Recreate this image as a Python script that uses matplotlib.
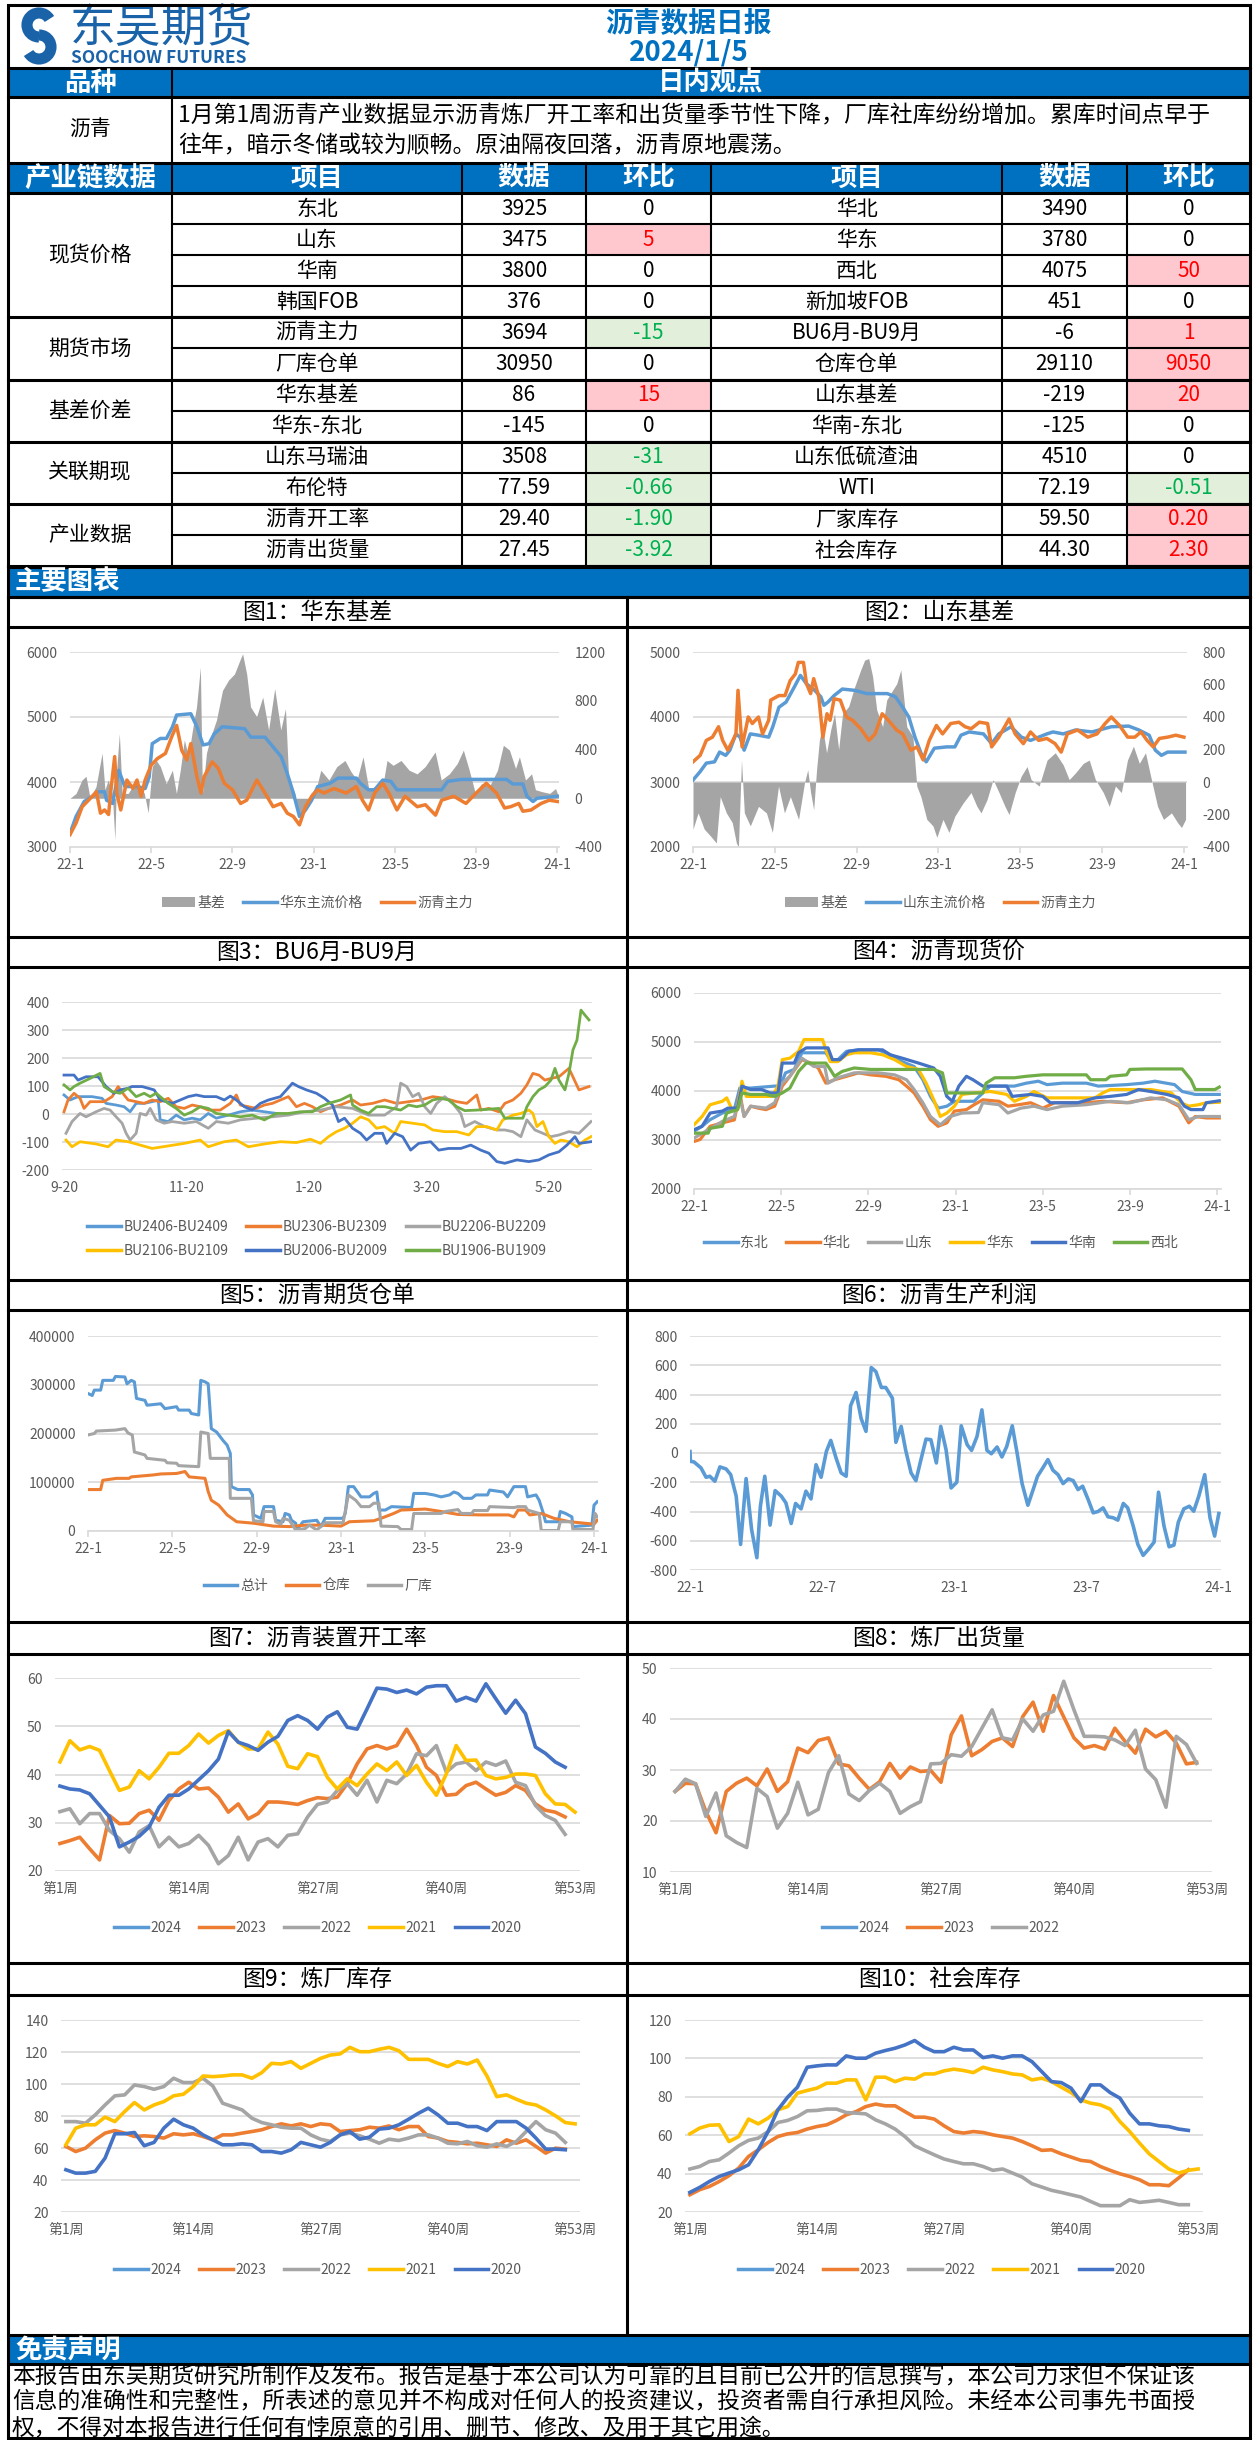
import matplotlib.pyplot as plt
import matplotlib.ticker as mticker
from matplotlib.patches import Rectangle, Patch, Arc
from matplotlib.lines import Line2D

plt.rcParams['font.family'] = ['Noto Sans CJK SC', 'DejaVu Sans']
plt.rcParams['axes.unicode_minus'] = False

C_LB, C_OR, C_GR, C_YE, C_DB, C_GN = '#5B9BD5', '#ED7D31', '#A5A5A5', '#FFC000', '#4472C4', '#70AD47'
BLUE = '#0070C0'
GRID = '#D9D9D9'
TICK = '#595959'

# ---------------- table ----------------
comment = ['1月第1周沥青产业数据显示沥青炼厂开工率和出货量季节性下降，厂库社库纷纷增加。累库时间点早于',
           '往年，暗示冬储或较为顺畅。原油隔夜回落，沥青原地震荡。']
groups = ['现货价格', '期货市场', '基差价差', '关联期现', '产业数据']
group_rows = [4, 2, 2, 2, 2]
items_left = ['东北', '山东', '华南', '韩国FOB', '沥青主力', '厂库仓单', '华东基差', '华东-东北',
              '山东马瑞油', '布伦特', '沥青开工率', '沥青出货量']
data_left = ['3925', '3475', '3800', '376', '3694', '30950', '86', '-145', '3508', '77.59', '29.40', '27.45']
chg_left = ['0', '5', '0', '0', '-15', '0', '15', '0', '-31', '-0.66', '-1.90', '-3.92']
items_right = ['华北', '华东', '西北', '新加坡FOB', 'BU6月-BU9月', '仓库仓单', '山东基差', '华南-东北',
               '山东低硫渣油', 'WTI', '厂家库存', '社会库存']
data_right = ['3490', '3780', '4075', '451', '-6', '29110', '-219', '-125', '4510', '72.19', '59.50', '44.30']
chg_right = ['0', '0', '50', '0', '1', '9050', '20', '0', '0', '-0.51', '0.20', '2.30']
disclaimer = ['本报告由东吴期货研究所制作及发布。报告是基于本公司认为可靠的且目前已公开的信息撰写，本公司力求但不保证该',
              '信息的准确性和完整性，所表述的意见并不构成对任何人的投资建议，投资者需自行承担风险。未经本公司事先书面授',
              '权，不得对本报告进行任何有悖原意的引用、删节、修改、及用于其它用途。']

# ---------------- chart data (month index from 22-1) ----------------
date_ticks = [0, 4, 8, 12, 16, 20, 24]
date_labels = ['22-1', '22-5', '22-9', '23-1', '23-5', '23-9', '24-1']

hd_price = [(0, 3210), (0.3, 3470), (0.7, 3700), (1.1, 3780), (1.4, 3850), (1.7, 3850), (1.8, 3720), (2.1, 3670),
            (2.4, 4180), (2.7, 3930), (3.3, 3930), (3.7, 3900), (3.9, 4080), (4.05, 4590), (4.45, 4670), (4.75, 4670),
            (5.05, 4850), (5.25, 5030), (5.95, 5050), (6.25, 4850), (6.55, 4570), (6.85, 4590), (7.1, 4740),
            (7.5, 4850), (8.6, 4820), (8.9, 4690), (9.6, 4690), (10.0, 4540), (10.4, 4390), (10.7, 4130), (11.0, 3830),
            (11.3, 3470), (11.6, 3570), (11.9, 3720), (12.2, 3930), (12.8, 3980), (13.2, 4060), (14.1, 4060),
            (14.3, 3980), (14.7, 3880), (15.0, 3880), (15.4, 4030), (15.8, 4010), (16.1, 3880), (18.3, 3880),
            (18.6, 4010), (19.3, 4040), (21.5, 4040), (21.8, 3970), (22.3, 3970), (22.5, 3780), (22.8, 3700),
            (23.0, 3750), (24.0, 3780)]
hd_main = [(0, 3190), (0.3, 3370), (0.6, 3620), (1.1, 3780), (1.3, 3850), (1.5, 3520), (1.7, 3570), (1.9, 3500),
           (2.0, 3830), (2.2, 4390), (2.3, 3830), (2.5, 3570), (2.8, 4030), (3.1, 3900), (3.3, 4030), (3.5, 3780),
           (3.7, 4030), (4.0, 4260), (4.3, 4360), (4.7, 4440), (5.0, 4690), (5.25, 4870), (5.5, 4490), (5.75, 4340),
           (5.95, 4590), (6.25, 4080), (6.45, 3830), (6.6, 4080), (7.0, 4310), (7.3, 4210), (7.6, 3980), (8.0, 3880),
           (8.4, 3670), (8.7, 3720), (9.2, 4030), (9.6, 3830), (10.0, 3620), (10.4, 3670), (10.7, 3520), (11.0, 3470),
           (11.3, 3340), (11.6, 3620), (11.9, 3780), (12.2, 3880), (12.5, 3830), (13.0, 3900), (13.6, 3830),
           (14.1, 3930), (14.4, 3720), (14.7, 3570), (15.0, 3830), (15.4, 3980), (15.7, 3830), (16.1, 3570),
           (16.5, 3780), (17.1, 3620), (17.5, 3650), (18.0, 3490), (18.3, 3720), (18.9, 3780), (19.5, 3670),
           (20.0, 3830), (20.5, 3980), (21.0, 3830), (21.4, 3600), (21.7, 3620), (22.1, 3670), (22.3, 3550),
           (22.7, 3570), (23.2, 3670), (23.6, 3720), (24.0, 3700)]
hd_basis = [(0, 0), (0.3, 40), (0.59, 150), (0.79, 180), (0.99, 0), (1.28, 95), (1.58, 370), (1.72, 70), (1.88, 150),
            (2.08, 40), (2.21, -340), (2.31, 260), (2.43, 530), (2.57, 40), (2.87, 40), (3.26, 150), (3.66, 40),
            (3.85, -120), (4.05, 260), (4.25, 310), (4.45, 260), (4.74, 120), (5.04, 230), (5.24, 40), (5.43, 230),
            (5.63, 480), (5.83, 340), (6.03, 560), (6.23, 750), (6.42, 1075), (6.52, 40), (6.72, 370), (6.92, 500),
            (7.21, 640), (7.51, 885), (7.81, 970), (8.1, 1020), (8.36, 1130), (8.5, 1185), (8.7, 1020), (8.89, 750),
            (9.19, 670), (9.49, 830), (9.78, 560), (10.08, 900), (10.38, 560), (10.61, 735), (10.77, 150),
            (11.07, 40), (11.26, -120), (11.56, -95), (11.86, 40), (12.15, 95), (12.35, 230), (12.75, 150),
            (13.14, 260), (13.54, 310), (13.83, 220), (14.13, 150), (14.43, 340), (14.72, 70), (15.02, 95),
            (15.42, 120), (15.61, 310), (15.91, 270), (16.3, 310), (16.7, 230), (17.09, 200), (17.49, 260),
            (17.98, 380), (18.28, 150), (18.68, 200), (19.07, 285), (19.37, 395), (19.66, 230), (19.96, 40),
            (20.26, 120), (20.65, 95), (21.05, 230), (21.34, 435), (21.64, 395), (21.94, 245), (22.13, 340),
            (22.43, 150), (22.73, 200), (22.92, 70), (23.22, 55), (23.62, 40), (23.91, 80), (24.05, 15)]

sd_price = [(0, 3030), (0.35, 3160), (0.65, 3290), (1.05, 3310), (1.3, 3460), (1.6, 3410), (1.8, 3490), (2.1, 3740),
            (2.3, 3690), (2.5, 3490), (2.8, 3740), (3.2, 3720), (3.7, 3690), (3.9, 3850), (4.2, 4150), (4.55, 4230),
            (4.95, 4460), (5.25, 4640), (5.55, 4510), (5.95, 4410), (6.25, 4310), (6.4, 4180), (6.6, 4230),
            (6.9, 4330), (7.3, 4430), (7.9, 4410), (8.5, 4360), (9.5, 4360), (9.9, 4310), (10.25, 4150),
            (10.55, 4000), (10.85, 3690), (11.15, 3440), (11.4, 3310), (11.8, 3520), (12.4, 3540), (12.8, 3540),
            (13.1, 3720), (13.5, 3770), (14.2, 3740), (14.6, 3590), (14.95, 3740), (15.55, 3850), (16.05, 3690),
            (16.5, 3640), (17.3, 3740), (17.6, 3770), (18.1, 3740), (18.7, 3800), (19.5, 3770), (20.45, 3850),
            (21.3, 3860), (21.8, 3800), (22.3, 3720), (22.6, 3490), (22.9, 3410), (23.2, 3460), (24.05, 3460)]
sd_main = [(0, 3310), (0.35, 3410), (0.65, 3640), (0.95, 3690), (1.25, 3850), (1.45, 3640), (1.7, 3490), (1.95, 3640),
           (2.1, 3740), (2.2, 4410), (2.4, 3540), (2.7, 4000), (2.9, 3900), (3.2, 4000), (3.4, 3740), (3.7, 3950),
           (3.8, 4260), (4.2, 4330), (4.5, 4330), (4.75, 4560), (5.0, 4660), (5.15, 4840), (5.4, 4840), (5.55, 4510),
           (5.75, 4360), (5.9, 4590), (6.15, 4310), (6.35, 3690), (6.55, 4050), (6.7, 3950), (6.9, 4280), (7.2, 4260),
           (7.5, 4000), (7.8, 3950), (8.2, 3820), (8.6, 3640), (8.9, 3740), (9.25, 4050), (9.55, 3950), (9.95, 3800),
           (10.25, 3740), (10.65, 3490), (10.95, 3540), (11.25, 3340), (11.55, 3640), (11.9, 3870), (12.2, 3740),
           (12.6, 3900), (13.0, 3920), (13.3, 3850), (13.6, 3820), (14.0, 3920), (14.4, 3900), (14.6, 3540),
           (14.95, 3690), (15.45, 3970), (15.75, 3740), (16.15, 3590), (16.5, 3770), (16.9, 3640), (17.3, 3670),
           (17.7, 3590), (18.0, 3460), (18.3, 3740), (18.8, 3800), (19.3, 3690), (19.75, 3740), (20.15, 3900),
           (20.45, 4000), (20.85, 3870), (21.25, 3690), (21.6, 3690), (21.9, 3770), (22.2, 3640), (22.5, 3540),
           (22.8, 3670), (23.2, 3690), (23.6, 3720), (24.0, 3690)]
sd_basis = [(0, -290), (0.25, -190), (0.55, -290), (0.84, -330), (1.14, -375), (1.33, -90), (1.63, -190),
            (1.92, -250), (2.12, -375), (2.22, -400), (2.37, 135), (2.51, -190), (2.8, -270), (3.2, -150),
            (3.59, -190), (3.88, -310), (4.18, -25), (4.47, -190), (4.76, -90), (5.16, -230), (5.45, -5), (5.61, 75),
            (5.75, -65), (5.9, -170), (6.04, 75), (6.18, 260), (6.33, 340), (6.53, 180), (6.73, 320), (6.92, 420),
            (7.12, 200), (7.31, 420), (7.61, 465), (7.9, 585), (8.2, 690), (8.39, 750), (8.59, 760), (8.78, 650),
            (8.98, 445), (9.27, 340), (9.47, 505), (9.76, 565), (9.96, 605), (10.16, 690), (10.45, 340), (10.75, 280),
            (10.94, -25), (11.14, -90), (11.43, -230), (11.73, -270), (11.92, -340), (12.22, -230), (12.51, -310),
            (12.8, -210), (13.2, -130), (13.59, -65), (13.88, -150), (14.08, -190), (14.37, -110), (14.67, 15),
            (14.96, -65), (15.25, -150), (15.45, -200), (15.75, -65), (16.04, 35), (16.33, 95), (16.53, 15),
            (16.92, -25), (17.31, 135), (17.71, 180), (18.1, 105), (18.39, 15), (18.69, 55), (19.08, 115),
            (19.37, 135), (19.67, 15), (20.06, -65), (20.35, -150), (20.65, -25), (20.94, -65), (21.24, 135),
            (21.53, 220), (21.82, 115), (22.12, 180), (22.41, 15), (22.71, -150), (23.0, -230), (23.39, -190),
            (23.69, -250), (23.88, -280), (24.08, -230)]

# BU6-BU9 spreads, x = days after 9-20
spread_ticks = [0, 61, 122, 181, 242]
spread_labels = ['9-20', '11-20', '1-20', '3-20', '5-20']
bu2406 = [(0, 68), (3, 50), (7, 62), (14, 62), (19, 56), (21, 38), (26, 32), (30, 26), (33, 8), (36, 38), (40, 38),
          (44, 44), (47, 50), (48, -21), (52, -27), (56, -4), (60, -21), (64, -15), (68, -21), (72, 2), (76, -15),
          (82, -4), (88, 8), (94, 14), (100, 8), (106, 2)]
bu2306 = [(0, 8), (2, 50), (5, 74), (8, 56), (10, 20), (13, 44), (20, 44), (24, 62), (27, 98), (30, 68), (32, 50),
          (36, 44), (40, 38), (44, 50), (48, 44), (52, 56), (56, 26), (60, 20), (64, 32), (68, 26), (72, 14), (78, 14),
          (83, 38), (86, 68), (88, 32), (92, 26), (96, 20), (100, 32), (104, 38), (108, 50), (112, 62), (116, 26),
          (120, 38), (124, 26), (128, 8), (132, 20), (138, 32), (144, 50), (148, 32), (154, 38), (160, 50), (166, 38),
          (172, 44), (178, 50), (184, 62), (190, 56), (196, 44), (201, 38), (206, 68), (208, 14), (212, 20), (217, 8),
          (220, 38), (224, 50), (228, 74), (231, 104), (234, 145), (237, 139), (240, 121), (243, 127), (247, 133),
          (252, 163), (257, 86), (262, 98)]
bu2206 = [(1, -69), (4, -27), (8, 2), (11, -10), (16, 8), (20, 20), (23, 14), (26, -10), (29, -33), (31, -69),
          (33, -93), (36, -69), (38, 2), (41, -4), (43, 20), (46, -21), (50, -33), (54, -27), (60, -33), (66, -27),
          (72, -51), (76, -27), (82, -33), (88, -21), (96, -15), (104, -10), (112, -4), (120, 8), (128, 14), (136, 26),
          (144, 20), (152, -4), (160, -4), (166, 26), (168, 110), (171, 98), (174, 62), (177, 74), (180, 26), (183, 2),
          (186, 38), (190, 62), (194, 38), (198, 2), (200, -45), (205, -27), (210, -45), (216, -57), (220, -57),
          (224, -63), (228, -81), (231, -21), (235, -57), (239, -69), (243, -81), (247, -75), (252, -63), (257, -69),
          (263, -27)]
bu2106 = [(1, -93), (4, -117), (8, -99), (16, -107), (22, -117), (26, -93), (32, -99), (38, -111), (44, -123),
          (52, -114), (60, -105), (68, -93), (72, -117), (80, -99), (86, -93), (92, -117), (100, -107), (108, -99),
          (116, -102), (123, -90), (128, -105), (132, -81), (136, -63), (140, -51), (144, -33), (148, -10), (152, -21),
          (156, -51), (160, -45), (165, -69), (168, -27), (174, -33), (180, -39), (184, -57), (190, -63), (196, -63),
          (202, -75), (206, -45), (211, -45), (216, -57), (219, -21), (224, -4), (228, 2), (232, 14), (234, 2),
          (236, -45), (239, -27), (242, -81), (245, -105), (248, -93), (252, -99), (256, -117), (260, -93),
          (263, -81)]
bu2006 = [(0, 139), (5, 139), (7, 121), (11, 133), (17, 133), (21, 98), (25, 74), (28, 86), (32, 92), (34, 98),
          (39, 98), (45, 86), (48, 50), (54, 38), (58, 50), (62, 62), (66, 68), (70, 62), (76, 62), (80, 50), (83, 64),
          (86, 50), (90, 26), (94, 14), (98, 38), (102, 50), (108, 62), (111, 86), (114, 110), (117, 98), (121, 86),
          (126, 74), (130, 56), (134, 32), (137, -27), (140, -15), (144, -51), (148, -69), (151, -93), (155, -69),
          (159, -69), (161, -105), (165, -69), (169, -81), (173, -129), (177, -105), (183, -99), (187, -129),
          (192, -123), (198, -123), (203, -111), (208, -129), (212, -140), (216, -170), (220, -176), (226, -164),
          (232, -170), (237, -164), (242, -146), (247, -135), (251, -111), (255, -81), (257, -105), (263, -99)]
bu1906 = [(0, 104), (3, 86), (5, 98), (8, 110), (13, 127), (18, 145), (20, 98), (24, 80), (28, 74), (32, 92),
          (36, 62), (40, 74), (43, 62), (46, 74), (49, 56), (52, 38), (56, 20), (60, -4), (64, 8), (68, 26), (72, 20),
          (76, 2), (82, -4), (88, -10), (94, -4), (100, -21), (106, 2), (112, 2), (118, 8), (124, 8), (128, 26),
          (132, 38), (138, 50), (143, 68), (144, 32), (148, 14), (152, 2), (156, 26), (160, 26), (164, 20), (168, 14),
          (172, 32), (176, 26), (180, 32), (184, 50), (188, 56), (192, 50), (196, 26), (200, 12), (206, 14),
          (212, 17), (217, 20), (220, -15), (225, -15), (229, -15), (231, 26), (234, 62), (237, 86), (240, 98),
          (243, 121), (245, 163), (247, 121), (250, 86), (252, 145), (254, 229), (256, 264), (258, 371), (260, 353),
          (262, 336)]

spot_db = [(0, 3180), (0.37, 3280), (0.74, 3415), (1.3, 3550), (1.85, 3620), (2.1, 4060), (2.6, 4060), (3.7, 4100),
           (3.95, 4100), (4.2, 4370), (4.6, 4440), (4.95, 4780), (6.05, 4780), (6.25, 4640), (6.6, 4640), (7.0, 4810),
           (7.55, 4840), (8.45, 4840), (9.0, 4740), (9.55, 4600), (10.1, 4500), (10.5, 4230), (10.85, 3890),
           (11.2, 3650), (11.6, 3690), (11.95, 3790), (12.85, 3790), (13.25, 3960), (13.6, 4100), (14.7, 4100),
           (15.25, 4160), (15.8, 4200), (16.2, 4130), (16.9, 4160), (18.0, 4160), (18.55, 4100), (19.85, 4130),
           (20.6, 4160), (21.15, 4200), (22.05, 4130), (22.4, 3990), (23.0, 3930), (24.1, 3930)]
spot_hb = [(0, 2970), (0.28, 3010), (0.74, 3280), (1.3, 3350), (1.85, 3410), (2.1, 3960), (2.3, 3480), (2.6, 3690),
           (2.95, 3650), (3.3, 3620), (3.7, 3690), (4.05, 4100), (4.4, 4300), (4.95, 4640), (5.35, 4570), (5.7, 4470),
           (6.05, 4160), (6.45, 4230), (7.0, 4300), (7.55, 4370), (8.1, 4330), (8.8, 4300), (9.4, 4230), (9.75, 4100),
           (10.1, 3960), (10.5, 3690), (10.85, 3415), (11.2, 3280), (11.6, 3350), (11.95, 3590), (12.5, 3620),
           (12.85, 3720), (13.25, 3820), (14.0, 3790), (14.4, 3690), (14.9, 3720), (15.45, 3760), (16.0, 3650),
           (16.55, 3760), (17.3, 3760), (18.0, 3760), (18.75, 3790), (19.85, 3760), (20.6, 3820), (21.5, 3860),
           (22.25, 3690), (22.7, 3350), (23.0, 3480), (23.5, 3450), (24.1, 3450)]
spot_sd = [(0, 3040), (0.55, 3180), (1.3, 3380), (1.85, 3480), (2.1, 3890), (2.3, 3480), (2.6, 3690), (3.3, 3650),
           (3.7, 3760), (4.05, 4160), (4.4, 4300), (4.95, 4670), (5.5, 4500), (6.0, 4500), (6.15, 4160), (6.6, 4270),
           (7.35, 4370), (8.45, 4370), (9.2, 4330), (9.75, 4230), (10.1, 4030), (10.5, 3760), (10.85, 3480),
           (11.3, 3310), (11.75, 3480), (12.3, 3550), (13.05, 3560), (13.25, 3760), (14.0, 3720), (14.4, 3550),
           (15.0, 3650), (15.6, 3690), (16.2, 3620), (16.9, 3690), (18.0, 3720), (19.1, 3790), (20.0, 3760),
           (20.95, 3860), (21.7, 3820), (22.25, 3720), (22.7, 3415), (23.15, 3480), (24.1, 3480)]
spot_hd = [(0, 3310), (0.37, 3480), (0.74, 3720), (1.3, 3790), (1.5, 3860), (1.75, 3620), (2.0, 3620), (2.2, 4200),
           (2.4, 3890), (2.95, 3890), (3.6, 3890), (3.85, 4100), (4.05, 4640), (4.4, 4670), (4.8, 4810), (5.05, 5050),
           (5.9, 5050), (6.05, 4840), (6.25, 4600), (6.6, 4600), (7.0, 4740), (7.35, 4780), (8.1, 4780), (8.65, 4740),
           (9.2, 4640), (9.75, 4500), (10.3, 4440), (10.65, 4160), (11.0, 3820), (11.3, 3480), (11.6, 3550),
           (11.95, 3690), (12.3, 3930), (12.85, 3960), (13.6, 3990), (14.35, 3930), (14.7, 3790), (15.25, 3890),
           (15.6, 3990), (16.2, 3860), (18.4, 3860), (18.75, 3960), (19.1, 4030), (20.95, 4030), (21.9, 3960),
           (22.35, 3760), (22.7, 3690), (23.15, 3720), (23.5, 3760), (24.1, 3770)]
spot_hn = [(0, 3210), (0.37, 3280), (0.74, 3550), (1.3, 3590), (1.55, 3650), (2.0, 3650), (2.2, 4100), (2.6, 4030),
           (3.1, 4030), (3.5, 3960), (3.85, 3960), (4.05, 4570), (4.6, 4570), (4.8, 4780), (5.15, 4880), (6.15, 4880),
           (6.35, 4640), (6.7, 4640), (7.1, 4810), (7.55, 4840), (8.65, 4840), (9.0, 4740), (9.55, 4670),
           (10.3, 4570), (11.0, 4470), (11.3, 4300), (11.6, 3890), (11.85, 3790), (12.15, 4100), (12.5, 4300),
           (12.8, 4230), (13.25, 4100), (14.35, 4100), (14.6, 3890), (15.45, 3930), (16.0, 3890), (16.35, 3760),
           (17.6, 3760), (18.4, 3860), (19.1, 3890), (19.85, 3930), (20.4, 4030), (20.95, 3990), (21.7, 3930),
           (22.25, 3860), (22.5, 3690), (22.8, 3620), (23.35, 3620), (23.5, 3760), (24.1, 3800)]
spot_xb = [(0, 3140), (0.65, 3140), (0.74, 3240), (1.3, 3280), (1.5, 3550), (2.0, 3620), (2.2, 3960), (2.6, 3930),
           (3.3, 3930), (3.7, 3890), (4.05, 3960), (4.4, 4060), (4.8, 4400), (5.15, 4570), (6.05, 4570), (6.25, 4440),
           (6.45, 4300), (6.8, 4400), (7.35, 4470), (8.1, 4440), (11.0, 4440), (11.4, 4370), (11.6, 3960),
           (13.25, 3960), (13.4, 4160), (13.8, 4270), (14.7, 4270), (15.25, 4300), (16.0, 4330), (18.0, 4330),
           (18.2, 4230), (18.9, 4230), (19.1, 4300), (19.85, 4330), (20.0, 4440), (20.75, 4450), (22.4, 4450),
           (22.8, 4230), (23.0, 4030), (23.9, 4030), (24.1, 4080)]

wr_total = [(0, 282000), (0.2, 278000), (0.3, 289000), (0.6, 289000), (0.7, 309000), (1.2, 309000), (1.3, 317000),
            (1.75, 316000), (1.85, 302000), (2.05, 309000), (2.2, 306000), (2.3, 272000), (2.7, 268000),
            (2.8, 258000), (3.45, 261000), (3.65, 251000), (4.2, 255000), (4.3, 248000), (4.8, 248000),
            (4.9, 241000), (5.25, 238000), (5.35, 309000), (5.55, 306000), (5.7, 302000), (5.85, 210000),
            (6.1, 203000), (6.4, 186000), (6.6, 176000), (6.75, 159000), (6.8, 91000), (7.1, 85000), (7.65, 85000),
            (7.8, 74000), (7.85, 33000), (8.2, 26000), (8.35, 50000), (8.8, 50000), (8.9, 22000), (9.25, 19000),
            (9.35, 36000), (9.55, 33000), (9.65, 22000), (9.85, 16000), (9.9, 2000), (10.2, 19000), (10.85, 22000),
            (11.05, 9000), (11.25, 26000), (12.1, 26000), (12.2, 36000), (12.35, 91000), (12.6, 91000),
            (12.95, 70000), (13.35, 70000), (13.55, 77000), (13.7, 80000), (13.8, 43000), (14.1, 43000),
            (14.4, 50000), (15.35, 48000), (15.45, 77000), (16.0, 77000), (16.4, 74000), (16.75, 70000),
            (17.15, 74000), (17.35, 80000), (17.55, 77000), (17.8, 67000), (18.2, 67000), (18.4, 74000),
            (18.95, 74000), (19.05, 84000), (19.7, 80000), (19.9, 70000), (20.2, 91000), (20.75, 91000),
            (20.85, 70000), (21.25, 74000), (21.4, 63000), (21.6, 36000), (21.7, 19000), (22.3, 19000),
            (22.4, 40000), (22.65, 36000), (22.95, 29000), (23.0, 9000), (23.9, 12000), (24.0, 53000),
            (24.15, 60000)]
wr_depot = [(0, 85000), (0.6, 85000), (0.7, 104000), (1.35, 108000), (1.95, 108000), (2.05, 111000), (3.1, 115000),
            (3.45, 117000), (4.2, 118000), (4.6, 122000), (4.8, 111000), (5.55, 108000), (5.7, 81000), (5.85, 63000),
            (6.2, 53000), (6.6, 33000), (7.05, 19000), (7.85, 16000), (8.8, 10000), (9.55, 9000), (10.3, 12000),
            (11.05, 12000), (12.0, 10000), (12.4, 19000), (13.55, 21000), (13.9, 26000), (14.5, 36000),
            (14.85, 43000), (16.0, 45000), (16.75, 40000), (17.55, 34000), (18.65, 33000), (19.95, 33000),
            (20.2, 29000), (20.4, 43000), (20.75, 43000), (20.95, 33000), (21.5, 36000), (22.1, 26000),
            (22.85, 19000), (24.0, 14000), (24.15, 22000)]
wr_plant = [(0, 197000), (0.3, 200000), (0.4, 205000), (1.3, 207000), (1.75, 210000), (1.9, 201000), (2.1, 197000),
            (2.2, 162000), (2.7, 156000), (2.8, 149000), (3.65, 145000), (3.75, 140000), (4.2, 139000),
            (4.3, 134000), (5.25, 132000), (5.35, 203000), (5.7, 200000), (5.8, 149000), (6.7, 149000),
            (6.75, 67000), (7.75, 67000), (7.85, 21000), (8.3, 19000), (8.35, 40000), (8.8, 40000), (8.9, 19000),
            (9.15, 14000), (9.25, 26000), (9.55, 22000), (9.85, 2000), (10.3, 5000), (10.5, 12000), (10.85, 2000),
            (11.25, 17000), (12.1, 17000), (12.35, 74000), (12.7, 63000), (12.95, 50000), (13.35, 50000),
            (13.55, 57000), (13.8, 57000), (13.9, 10000), (14.7, 9000), (14.85, 3000), (15.35, 3000), (15.45, 36000),
            (16.75, 36000), (16.95, 40000), (17.55, 44000), (17.7, 36000), (18.2, 36000), (18.3, 42000),
            (18.95, 42000), (19.05, 50000), (20.2, 48000), (20.4, 50000), (20.75, 50000), (20.85, 43000),
            (21.4, 36000), (21.5, 1000), (22.3, 1000), (22.4, 19000), (22.95, 19000), (23.0, 3000), (23.95, 3000),
            (24.05, 36000), (24.15, 29000)]

profit_ticks = [0, 6, 12, 18, 24]
profit_labels = ['22-1', '22-7', '23-1', '23-7', '24-1']
profit = [(0, 10), (0.02, -57), (0.18, -61), (0.5, -102), (0.73, -166), (0.9, -159), (1.13, -193), (1.36, -95),
          (1.64, -109), (1.85, -148), (2.1, -295), (2.3, -625), (2.55, -175), (2.8, -523), (3.04, -716), (3.2, -364),
          (3.4, -159), (3.64, -493), (3.87, -257), (4.15, -295), (4.36, -341), (4.6, -482), (4.8, -345),
          (5.05, -382), (5.27, -261), (5.5, -314), (5.73, -80), (5.96, -166), (6.2, 11), (6.4, 86), (6.64, -34),
          (6.87, -136), (7.1, -159), (7.3, 323), (7.55, 414), (7.78, 236), (8.0, 148), (8.24, 584), (8.45, 557),
          (8.7, 448), (8.9, 448), (9.2, 375), (9.36, 73), (9.6, 182), (9.8, 23), (10.05, -136), (10.27, -189),
          (10.5, -45), (10.73, 95), (10.95, 91), (11.2, -68), (11.4, 182), (11.64, 23), (11.87, -239), (12.13, -200),
          (12.33, 186), (12.6, 57), (12.8, 18), (13.05, 114), (13.27, 295), (13.5, 18), (13.7, -5), (13.96, 41),
          (14.18, -27), (14.4, 45), (14.65, 186), (14.87, 0), (15.1, -211), (15.36, -357), (15.6, -250),
          (15.8, -159), (16.04, -102), (16.27, -45), (16.5, -118), (16.73, -148), (16.96, -209), (17.2, -177),
          (17.42, -189), (17.64, -250), (17.85, -227), (18.1, -318), (18.33, -409), (18.55, -400), (18.78, -375),
          (19.0, -436), (19.24, -443), (19.45, -459), (19.7, -345), (19.9, -375), (20.15, -500), (20.36, -625),
          (20.6, -700), (20.84, -659), (21.1, -609), (21.3, -268), (21.55, -500), (21.78, -641), (22.0, -630),
          (22.2, -473), (22.45, -382), (22.7, -364), (22.9, -398), (23.13, -295), (23.4, -148), (23.64, -443),
          (23.85, -568), (24.04, -414)]

# ---------------- weekly seasonal data ----------------
week_ticks = [1, 14, 27, 40, 53]
week_labels = ['第1周', '第14周', '第27周', '第40周', '第53周']
years = ['2024', '2023', '2022', '2021', '2020']
year_colors = [C_LB, C_OR, C_GR, C_YE, C_DB]

rate_2024 = [29.4]
rate_2023 = [25.7, 26.3, 27.0, 24.6, 22.3, 31.5, 29.8, 29.9, 31.9, 32.6, 30.5, 34.6, 37.0, 38.4, 37.0, 37.2, 35.3,
             32.2, 33.9, 30.8, 31.9, 34.3, 34.3, 34.1, 33.8, 34.6, 35.2, 35.0, 35.3, 38.1, 42.2, 45.3, 46.0, 45.3,
             46.0, 49.4, 46.0, 41.5, 39.8, 35.7, 35.9, 37.7, 38.4, 37.0, 35.7, 36.3, 37.7, 36.7, 33.9, 32.6, 32.2, 31.2]
rate_2022 = [32.3, 32.9, 29.8, 31.9, 31.9, 28.4, 26.7, 23.9, 28.1, 29.4, 25.0, 27.0, 25.0, 25.7, 27.4, 25.3, 21.5,
             23.2, 27.0, 22.3, 26.0, 26.7, 25.0, 27.4, 27.7, 31.2, 33.8, 34.3, 36.7, 38.1, 35.7, 38.8, 34.3, 38.8,
             38.1, 40.1, 44.3, 43.9, 46.0, 40.5, 42.2, 42.6, 40.8, 42.6, 41.9, 42.8, 38.4, 37.7, 33.6, 31.5, 30.5, 27.6]
rate_2021 = [42.6, 47.0, 45.1, 45.8, 45.0, 40.8, 36.7, 37.4, 40.8, 39.1, 41.5, 44.4, 44.4, 46.0, 48.4, 46.5, 48.1,
             49.1, 46.7, 45.3, 45.3, 48.8, 46.3, 41.7, 41.2, 44.3, 43.7, 39.4, 37.0, 39.1, 37.7, 40.1, 42.2, 40.8,
             42.6, 39.8, 41.9, 38.4, 35.7, 40.1, 46.0, 42.9, 43.0, 39.8, 39.1, 39.4, 40.1, 40.1, 39.8, 36.0, 33.9,
             33.8, 32.2]
rate_2020 = [37.6, 37.0, 36.8, 36.0, 33.6, 31.2, 25.0, 26.0, 27.2, 29.1, 33.2, 35.7, 35.7, 37.0, 38.9, 40.8, 43.2,
             48.9, 46.7, 46.0, 45.0, 46.7, 47.9, 51.2, 52.2, 51.2, 49.4, 51.9, 53.0, 49.8, 49.4, 53.6, 57.9, 57.7,
             57.0, 57.5, 56.7, 58.1, 58.4, 58.4, 55.2, 56.0, 55.2, 58.8, 55.7, 52.7, 55.4, 52.6, 45.7, 44.4, 42.6, 41.5]

ship_2024 = [27.45]
ship_2023 = [25.8, 27.4, 27.3, 21.9, 17.7, 25.8, 27.4, 28.4, 26.9, 30.2, 25.8, 27.7, 34.3, 33.4, 35.8, 36.3, 31.2,
             30.8, 28.4, 26.2, 27.7, 31.3, 28.4, 30.6, 29.7, 29.9, 27.6, 36.9, 40.6, 32.8, 34.0, 35.6, 36.3, 34.6,
             40.5, 43.3, 37.6, 44.6, 40.4, 36.3, 34.3, 34.8, 34.1, 38.2, 35.6, 33.3, 38.0, 36.5, 37.6, 35.3, 31.2, 31.5]
ship_2022 = [25.8, 28.2, 27.3, 20.9, 25.5, 17.1, 15.8, 14.8, 26.4, 24.8, 18.6, 21.5, 27.6, 21.2, 22.3, 29.5, 32.8,
             25.3, 24.0, 26.0, 27.4, 25.8, 21.5, 22.8, 23.8, 31.2, 31.3, 33.0, 32.7, 34.6, 38.2, 41.8, 36.3, 35.9,
             40.0, 37.6, 40.8, 41.5, 47.4, 41.8, 36.6, 36.6, 36.5, 35.9, 34.8, 37.8, 30.2, 28.1, 22.7, 36.6, 35.0, 31.3]

plant_2024 = [59.5]
plant_2023 = [61.0, 57.8, 59.9, 65.1, 69.3, 70.9, 69.3, 67.2, 67.6, 67.2, 66.2, 68.9, 68.2, 68.9, 67.2, 65.1, 68.2,
              68.2, 69.3, 70.3, 71.4, 73.4, 75.1, 73.8, 75.1, 73.4, 75.1, 74.5, 70.3, 70.9, 71.4, 73.0, 72.4, 73.8,
              71.4, 73.4, 73.4, 67.2, 66.2, 64.1, 63.5, 62.6, 63.0, 62.0, 61.0, 65.1, 63.0, 65.1, 61.0, 56.8, 59.9, 59.3]
plant_2022 = [76.5, 76.5, 75.5, 80.7, 86.9, 92.6, 93.2, 99.4, 98.4, 96.7, 98.4, 103.6, 100.9, 100.9, 103.6, 98.8,
              88.0, 85.9, 83.8, 78.6, 75.9, 74.5, 73.0, 72.4, 72.4, 68.2, 65.5, 64.1, 68.2, 69.3, 67.6, 65.5, 63.0,
              65.5, 64.7, 66.2, 68.2, 68.2, 66.2, 63.0, 62.6, 64.1, 61.4, 60.5, 62.6, 61.0, 64.1, 70.3, 76.5, 71.4,
              69.3, 63.5]
plant_2021 = [62.0, 72.4, 74.5, 74.5, 79.3, 76.5, 82.8, 88.4, 83.8, 86.9, 89.0, 92.6, 93.6, 98.4, 105.0, 104.6,
              105.0, 105.7, 105.7, 103.6, 107.1, 112.9, 112.5, 114.0, 109.8, 112.9, 116.0, 118.1, 118.8, 122.9, 120.2,
              120.2, 121.7, 122.9, 120.8, 115.4, 115.4, 115.4, 112.9, 110.9, 114.0, 112.5, 115.0, 105.0, 92.1, 93.2,
              90.5, 88.0, 86.9, 83.8, 80.1, 75.9, 75.1]
plant_2020 = [46.4, 44.3, 44.3, 45.4, 53.7, 68.9, 68.9, 69.7, 61.4, 63.5, 72.4, 78.0, 74.5, 72.4, 68.2, 65.1, 62.0,
              62.0, 62.6, 62.0, 57.8, 57.8, 56.8, 58.9, 63.5, 62.0, 60.5, 63.5, 68.2, 70.3, 65.5, 66.8, 71.8, 72.4,
              74.5, 78.0, 81.7, 84.9, 80.7, 75.5, 75.5, 73.4, 73.4, 70.9, 76.5, 76.5, 76.5, 72.4, 66.2, 59.3, 59.3, 58.9]

social_2024 = [44.3]
social_2023 = [29.0, 31.6, 33.3, 35.9, 38.9, 42.9, 48.9, 52.4, 56.2, 59.3, 60.7, 61.4, 63.2, 64.5, 65.4, 67.7, 70.6,
               72.3, 74.9, 76.2, 75.3, 75.3, 72.3, 69.4, 69.4, 68.4, 64.9, 61.9, 61.1, 61.9, 61.4, 60.2, 59.3, 58.5,
               56.7, 54.5, 52.1, 52.4, 50.3, 48.6, 46.9, 46.3, 43.7, 41.7, 39.9, 38.5, 36.8, 34.2, 34.2, 33.7, 37.7, 42.0]
social_2022 = [42.4, 43.7, 46.3, 47.2, 50.7, 54.5, 57.3, 58.5, 61.9, 66.6, 67.7, 69.7, 72.7, 72.9, 73.6, 73.6, 71.8,
               71.5, 71.1, 68.0, 65.9, 63.2, 59.3, 54.5, 52.1, 49.8, 47.6, 46.3, 45.1, 45.1, 43.7, 41.7, 42.4, 40.3,
               38.2, 34.7, 33.0, 31.3, 30.2, 29.0, 27.8, 25.5, 23.3, 23.3, 23.3, 26.4, 25.0, 25.5, 26.1, 25.0, 23.8, 23.8]
social_2021 = [60.7, 63.7, 65.2, 65.4, 56.7, 59.3, 68.4, 65.9, 68.9, 73.2, 74.9, 81.9, 83.3, 84.5, 87.1, 87.1, 88.8,
               88.8, 78.4, 90.2, 90.2, 87.9, 89.7, 89.2, 91.9, 91.9, 93.5, 94.4, 93.7, 92.6, 95.4, 94.0, 93.1, 91.9,
               91.4, 88.8, 89.7, 87.9, 85.0, 82.2, 78.4, 76.7, 75.8, 73.6, 67.1, 61.9, 55.9, 50.3, 46.3, 42.4, 40.3,
               41.7, 42.4]
social_2020 = [30.2, 32.8, 35.9, 38.5, 40.3, 42.0, 44.6, 52.4, 61.9, 73.2, 79.8, 85.0, 95.4, 96.1, 96.6, 96.6, 101.3,
               100.1, 100.1, 102.7, 104.1, 105.3, 107.0, 109.3, 105.8, 103.5, 103.5, 105.8, 104.4, 104.4, 100.4, 101.3,
               100.1, 101.3, 101.3, 98.3, 93.1, 87.9, 87.4, 84.5, 77.5, 86.2, 86.2, 82.2, 79.3, 71.5, 65.9, 65.9,
               64.9, 64.5, 63.2, 62.5]

# ---------------- canvas ----------------
W, H = 1258, 2440
fig = plt.figure(figsize=(W / 100, H / 100), dpi=100)
bg = fig.add_axes([0, 0, 1, 1])
bg.set_xlim(0, W)
bg.set_ylim(H, 0)
bg.axis('off')

L, R = 8, 1250


def rect(x0, y0, x1, y1, fc):
    bg.add_patch(Rectangle((x0, y0), x1 - x0, y1 - y0, fc=fc, ec='none', zorder=1))


def hline(y, x0=L, x1=R, lw=1.5):
    bg.plot([x0, x1], [y, y], color='black', lw=lw, solid_capstyle='projecting', zorder=3)


def vline(x, y0, y1, lw=1.5):
    bg.plot([x, x], [y0, y1], color='black', lw=lw, solid_capstyle='projecting', zorder=3)


def txt(x, y, s, size, color='black', weight='normal', ha='center'):
    bg.text(x, y, s, fontsize=size, color=color, weight=weight, ha=ha, va='center', zorder=4)


# header with logo (stylised S mark)
LOGO = '#1B63A8'
bg.add_patch(Arc((39, 25), 24, 24, theta1=90, theta2=330, lw=8, color=LOGO, zorder=2))
bg.add_patch(Arc((39, 47), 24, 24, theta1=270, theta2=150, lw=8, color=LOGO, zorder=2))
txt(70, 29, '东吴期货', 33, LOGO, ha='left')
txt(71, 58, 'SOOCHOW FUTURES', 12.5, LOGO, weight='bold', ha='left')
txt(689, 24, '沥青数据日报', 20, BLUE, weight='bold')
txt(689, 53, '2024/1/5', 20, BLUE, weight='bold')

# first blue row + comment row
rect(L, 68, R, 97, BLUE)
txt(90, 83, '品种', 19, 'white', 'bold')
txt(711, 83, '日内观点', 19, 'white', 'bold')
txt(90, 130, '沥青', 15)
for i, line in enumerate(comment):
    txt(178, 116 + 30 * i, line, 16.5, ha='left')

# table
cols = [L, 172, 462, 586, 711, 1002, 1127, R]
heads = ['产业链数据', '项目', '数据', '环比', '项目', '数据', '环比']
rect(L, 163, R, 193, BLUE)
for c in range(7):
    txt((cols[c] + cols[c + 1]) / 2, 178, heads[c], 19, 'white', 'bold')
top, rh = 193, (566 - 193) / 12
for r in range(12):
    y0 = top + r * rh
    yc = y0 + rh / 2
    for side, (it, dv, ch) in enumerate([(items_left, data_left, chg_left), (items_right, data_right, chg_right)]):
        c0 = 1 + side * 3
        v = float(ch[r])
        color = 'black'
        if v > 0:
            rect(cols[c0 + 2], y0, cols[c0 + 3], y0 + rh, '#FFC7CE')
            color = '#FF0000'
        elif v < 0:
            rect(cols[c0 + 2], y0, cols[c0 + 3], y0 + rh, '#E2EFDA')
            color = '#00B050'
        txt((cols[c0] + cols[c0 + 1]) / 2, yc, it[r], 15)
        txt((cols[c0 + 1] + cols[c0 + 2]) / 2, yc, dv[r], 15)
        txt((cols[c0 + 2] + cols[c0 + 3]) / 2, yc, ch[r], 15, color)
    hline(top + (r + 1) * rh, cols[1], R)
start = 0
for g, n in zip(groups, group_rows):
    txt(90, top + (start + n / 2) * rh, g, 15)
    start += n
    hline(top + start * rh, L, R, lw=2.2)
for x in cols[1:-1]:
    vline(x, 163, 566)
vline(172, 68, 163)
for y in (68, 97, 163, 193):
    hline(y, lw=2.2)

# main chart header
rect(L, 567, R, 597, BLUE)
txt(15, 582, '主要图表', 19, 'white', 'bold', ha='left')
hline(567, lw=2.2)
hline(597, lw=2.2)

chart_rows = [(597, 627, 937), (937, 967, 1280), (1280, 1310, 1622), (1622, 1654, 1963), (1963, 1995, 2335)]
chart_titles = [('图1：华东基差', '图2：山东基差'), ('图3：BU6月-BU9月', '图4：沥青现货价'),
                ('图5：沥青期货仓单', '图6：沥青生产利润'), ('图7：沥青装置开工率', '图8：炼厂出货量'),
                ('图9：炼厂库存', '图10：社会库存')]
for (t0, t1, b), (tl, tr) in zip(chart_rows, chart_titles):
    hline(t0, lw=2.2)
    hline(t1, lw=2.2)
    txt(317, (t0 + t1) / 2, tl, 16.5)
    txt(939, (t0 + t1) / 2, tr, 16.5)
hline(2335, lw=2.2)
vline(627, 597, 2335, lw=2.2)

# disclaimer
rect(L, 2335, R, 2364, BLUE)
txt(15, 2350, '免责声明', 19, 'white', 'bold', ha='left')
hline(2364, lw=2.2)
for i, line in enumerate(disclaimer):
    txt(12, 2376 + 26 * i, line, 16.4, ha='left')

bg.add_patch(Rectangle((L, 5), R - L, 2433, fc='none', ec='black', lw=2.2, zorder=5))


# ---------------- chart helpers ----------------
def new_axes(x0, y0, x1, y1):
    ax = fig.add_axes([x0 / W, 1 - y1 / H, (x1 - x0) / W, (y1 - y0) / H])
    ax.set_facecolor('none')
    for s in ax.spines.values():
        s.set_visible(False)
    ax.tick_params(labelsize=10, labelcolor=TICK, length=0)
    ax.yaxis.set_major_formatter(mticker.FuncFormatter(lambda v, p: '%d' % round(v)))
    return ax


def style(ax, ylim, yticks, xlim, xticks, xlabels, axis_line=False, grid=True):
    ax.set_ylim(ylim)
    ax.set_yticks(yticks)
    ax.set_xlim(xlim)
    ax.set_xticks(xticks)
    ax.set_xticklabels(xlabels)
    if grid:
        ax.yaxis.grid(True, color=GRID, lw=1.2)
        ax.set_axisbelow(True)
    ax.tick_params(axis='y', pad=9)
    if axis_line:
        ax.spines['bottom'].set_visible(True)
        ax.spines['bottom'].set_color(GRID)
        ax.spines['bottom'].set_linewidth(1.2)
        ax.tick_params(axis='x', length=4, color=GRID, width=1.2, pad=4)
    else:
        ax.tick_params(axis='x', pad=8)


def line(ax, pts, color, lw=2.3):
    x, y = zip(*pts)
    ax.plot(x, y, color=color, lw=lw, solid_joinstyle='round')


def legend(handles, labels, cx, cy, ncol=None, **kw):
    fig.legend(handles, labels, loc='center', bbox_to_anchor=(cx / W, 1 - cy / H), ncol=ncol or len(handles),
               frameon=False, fontsize=10, labelcolor=TICK, handlelength=2.4, handletextpad=0.2,
               columnspacing=1.3, borderaxespad=0, borderpad=0, **kw)


def lh(color, lw=2.5):
    return Line2D([], [], color=color, lw=lw)


# chart 1 / chart 2: basis charts (area on right axis, prices on left axis)
basis_specs = [((70, 652, 559, 847), (3000, 6000), (-400, 1200), [-400, 0, 400, 800, 1200], 24.08,
                hd_basis, hd_price, hd_main, '华东主流价格', 317),
               ((693, 652, 1187, 847), (2000, 5000), (-400, 800), [-400, -200, 0, 200, 400, 600, 800], 24.15,
                sd_basis, sd_price, sd_main, '山东主流价格', 940)]
for box, lim, rlim, rticks, xmax, basis, price, main, pname, cx in basis_specs:
    axb = new_axes(*box)
    style(axb, rlim, rticks, (0, xmax), [], [], grid=False)
    axb.yaxis.tick_right()
    axb.tick_params(axis='y', length=0, pad=11, labelsize=10, labelcolor=TICK)
    for v in range(lim[0] + 1000, lim[1] + 1, 1000):
        axb.axhline(rlim[0] + (v - lim[0]) * (rlim[1] - rlim[0]) / (lim[1] - lim[0]), color=GRID, lw=1.2, zorder=0)
    bx, by = zip(*basis)
    axb.fill_between(bx, 0, by, color=C_GR, lw=0, zorder=1)
    ax = new_axes(*box)
    style(ax, lim, list(range(lim[0], lim[1] + 1, 1000)), (0, xmax), date_ticks, date_labels,
          axis_line=True, grid=False)
    line(ax, price, C_LB, 2.5)
    line(ax, main, C_OR, 2.5)
    legend([Patch(fc=C_GR), lh(C_LB), lh(C_OR)], ['基差', pname, '沥青主力'], cx, 903)

# chart 3: BU6-BU9 spreads
ax = new_axes(62, 1002, 592, 1170)
style(ax, (-200, 400), list(range(-200, 401, 100)), (-1, 263.5), spread_ticks, spread_labels)
spreads = [(bu2406, C_LB, 'BU2406-BU2409'), (bu2306, C_OR, 'BU2306-BU2309'), (bu2206, C_GR, 'BU2206-BU2209'),
           (bu2106, C_YE, 'BU2106-BU2109'), (bu2006, C_DB, 'BU2006-BU2009'), (bu1906, C_GN, 'BU1906-BU1909')]
for pts, c, n in spreads:
    line(ax, pts, c, 2.0)
order = [0, 3, 1, 4, 2, 5]
legend([lh(spreads[i][1]) for i in order], [spreads[i][2] for i in order], 317, 1239, ncol=3,
       labelspacing=0.7)

# chart 4: spot prices
ax = new_axes(694, 993, 1221, 1189)
style(ax, (2000, 6000), [2000, 3000, 4000, 5000, 6000], (0, 24.18), date_ticks, date_labels, axis_line=True)
spots = [(spot_db, C_LB, '东北'), (spot_hb, C_OR, '华北'), (spot_sd, C_GR, '山东'), (spot_hd, C_YE, '华东'),
         (spot_hn, C_DB, '华南'), (spot_xb, C_GN, '西北')]
for pts, c, n in spots:
    line(ax, pts, c, 2.3)
legend([lh(c) for _, c, _ in spots], [n for _, _, n in spots], 941, 1243)

# chart 5: warehouse receipts
ax = new_axes(88, 1336, 598, 1531)
style(ax, (0, 400000), list(range(0, 400001, 100000)), (0, 24.19), date_ticks, date_labels, axis_line=True)
receipts = [(wr_total, C_LB, '总计'), (wr_depot, C_OR, '仓库'), (wr_plant, C_GR, '厂库')]
for pts, c, n in receipts:
    line(ax, pts, c, 2.2)
legend([lh(c) for _, c, _ in receipts], [n for _, _, n in receipts], 318, 1586)

# chart 6: production profit
ax = new_axes(690, 1336, 1221, 1570)
style(ax, (-800, 800), list(range(-800, 801, 200)), (0, 24.14), profit_ticks, profit_labels)
line(ax, profit, C_LB, 2.6)

# charts 7-10: weekly seasonal charts
season_specs = [((55, 1678, 580, 1871), (20, 60), 10, [rate_2024, rate_2023, rate_2022, rate_2021, rate_2020],
                 (318, 1928)),
                ((670, 1668, 1212, 1872), (10, 50), 10, [ship_2024, ship_2023, ship_2022], (941, 1928)),
                ((61, 2020, 580, 2212), (20, 140), 20, [plant_2024, plant_2023, plant_2022, plant_2021, plant_2020],
                 (318, 2270)),
                ((685, 2020, 1203, 2212), (20, 120), 20,
                 [social_2024, social_2023, social_2022, social_2021, social_2020], (942, 2270))]
for box, lim, step, series, (cx, cy) in season_specs:
    ax = new_axes(*box)
    style(ax, lim, list(range(lim[0], lim[1] + 1, step)), (0.5, 53.5), week_ticks, week_labels)
    for vals, c in zip(series, year_colors):
        ax.plot(range(1, len(vals) + 1), vals, color=c, lw=2.6, solid_joinstyle='round')
    n = len(series)
    legend([lh(c) for c in year_colors[:n]], years[:n], cx, cy)

fig.savefig('out.png', dpi=100)
